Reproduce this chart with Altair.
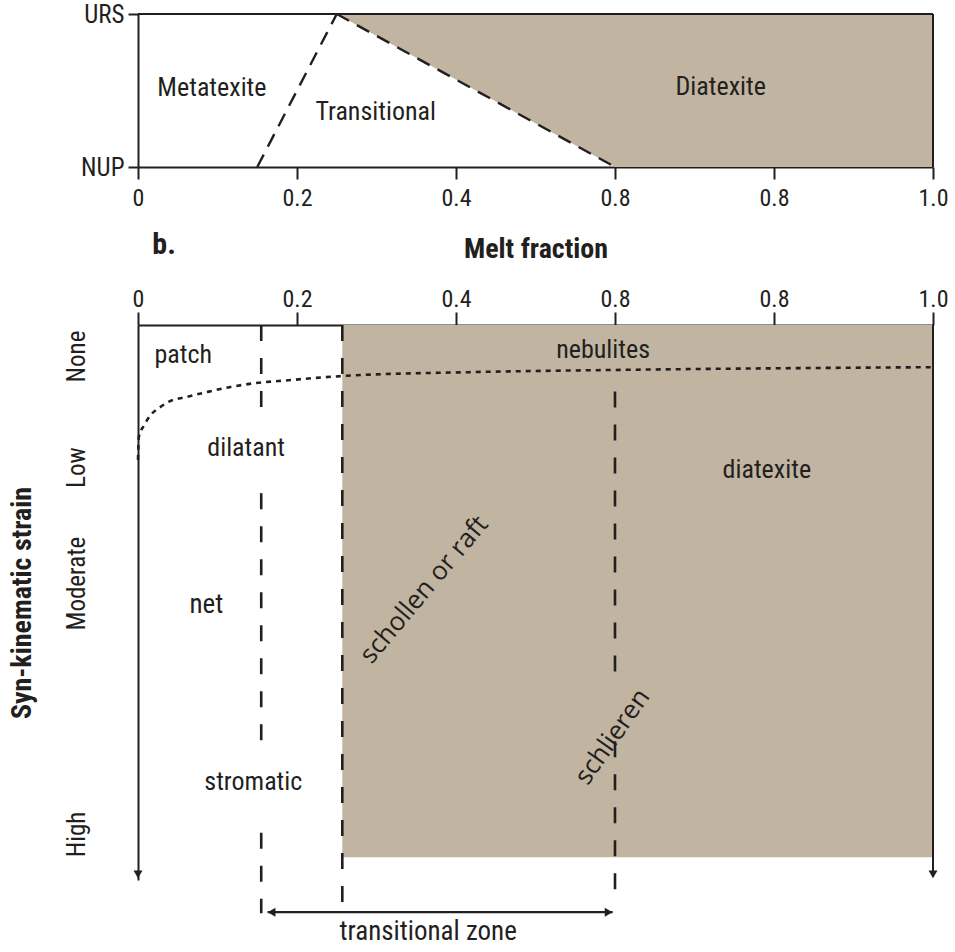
import json
import altair as alt
import pandas as pd

FONT = "Liberation Sans Narrow, Roboto Condensed, DejaVu Sans Condensed, Open Sans, sans-serif"
WIDE_FONT = "Open Sans, Lato, sans-serif"
INK = "#231f20"
TAN = "#c1b5a1"

# ---------------- shared melt-fraction axis ----------------
tick_values = [0, 0.2, 0.4, 0.6, 0.8, 1.0]
tick_labels = ["0", "0.2", "0.4", "0.8", "0.8", "1.0"]

# ---------------- panel a ----------------
a_levels = [0, 1]
a_level_labels = ["NUP", "URS"]

dia_x = [0.25, 0.6, 1.0]
dia_lower = [1, 0, 0]
dia_upper = [1, 1, 1]

a_bound_id = ["meta", "meta", "dia", "dia"]
a_bound_x = [0.15, 0.25, 0.25, 0.6]
a_bound_y = [0, 1, 1, 0]

a_frame_x = [0, 1]
a_frame_x2 = [1, 1]
a_frame_y = [1, 0]
a_frame_y2 = [1, 1]

a_text = ["Metatexite", "Transitional", "Diatexite"]
a_text_x = [0.093, 0.299, 0.733]
a_text_y = [0.516, 0.36, 0.52]

# ---------------- panel b ----------------
strain_values = [0.056, 0.256, 0.465, 0.917]
strain_labels = ["None", "Low", "Moderate", "High"]

dia_rect_x = [0.257]
dia_rect_x2 = [1.0]
dia_rect_y = [0.0]
dia_rect_y2 = [0.959]

curve_x = [0, 0.001, 0.008, 0.016, 0.027, 0.039, 0.06, 0.086, 0.115, 0.152, 0.177, 0.256, 0.416, 0.6, 1.0]
curve_y = [0.243, 0.202, 0.180, 0.162, 0.149, 0.138, 0.130, 0.121, 0.112, 0.104, 0.101, 0.092, 0.085, 0.081, 0.076]

seg_x = [0.155, 0.155, 0.155, 0.257, 0.6, 0.6]
seg_y = [0.0, 0.303, 0.915, 0.0, 0.12, 0.75]
seg_y2 = [0.153, 0.766, 1.06, 1.058, 0.64, 1.047]

right_x = [1.0]
right_y = [0.0]
right_y2 = [0.985]

arrow_x = [0.0, 1.0]
arrow_y = [0.99, 0.99]

zone_x = [0.163]
zone_x2 = [0.597]
zone_y = [1.058]
zone_head_x = [0.168, 0.592]
zone_head_y = [1.058, 1.058]
zone_head_shape = ["triangle-left", "triangle-right"]

b_text = ["patch", "nebulites", "dilatant", "diatexite", "net", "stromatic",
          "transitional zone"]
b_text_x = [0.057, 0.585, 0.136, 0.791, 0.086, 0.145, 0.365]
b_text_y = [0.054, 0.045, 0.222, 0.261, 0.505, 0.823, 1.094]
b_text_size = [26, 26, 26, 26, 27, 26, 27]

rot_text = ["schollen or raft", "schlieren"]
rot_x = [0.36, 0.597]
rot_y = [0.477, 0.742]
rot_angle = [310, 305]

panel_tag = ["b."]
panel_tag_x = [0.018]
panel_tag_y = [-0.144]

# ---------------- expressions built from the label lists ----------------
x_label_expr = f"{json.dumps(tick_labels)}[round(datum.value * 5)]"
a_y_label_expr = f"{json.dumps(a_level_labels)}[round(datum.value)]"
b_y_label_expr = f"{json.dumps(strain_labels)}[indexof({json.dumps(strain_values)}, datum.value)]"

W = 795
HA = 153
HB = 555

# ================= panel a =================
xa_axis = alt.Axis(values=tick_values, labelExpr=x_label_expr, title=None, grid=False,
                   tickSize=12, tickWidth=2, tickColor=INK, domainColor=INK, domainWidth=2,
                   labelFontSize=24, labelFont=FONT, labelColor=INK, labelPadding=7,
                   labelFlush=False)
ya_axis = alt.Axis(values=a_levels, labelExpr=a_y_label_expr, title=None, grid=False,
                   tickSize=10, tickWidth=2, tickColor=INK, domainColor=INK, domainWidth=2,
                   labelFontSize=25, labelFont=FONT, labelColor=INK, labelPadding=4,
                   labelFlush=False)
xa_scale = alt.Scale(domain=[0, 1], nice=False, zero=False)
ya_scale = alt.Scale(domain=[0, 1], nice=False, zero=False)


def XA(f="x"):
    return alt.X(f"{f}:Q", scale=xa_scale, axis=xa_axis)


def YA(f="y"):
    return alt.Y(f"{f}:Q", scale=ya_scale, axis=ya_axis)


dia_df = pd.DataFrame({"x": dia_x, "y": dia_lower, "y2": dia_upper})
a_area = alt.Chart(dia_df).mark_area(color=TAN, opacity=1, interpolate="linear").encode(
    x=XA(), y=YA(), y2="y2:Q")

a_bound_df = pd.DataFrame({"id": a_bound_id, "x": a_bound_x, "y": a_bound_y})
a_bound = alt.Chart(a_bound_df).mark_line(color=INK, strokeWidth=2.4, strokeDash=[14, 9]).encode(
    x=XA(), y=YA(), detail="id:N")

a_frame_df = pd.DataFrame({"x": a_frame_x, "x2": a_frame_x2, "y": a_frame_y, "y2": a_frame_y2})
a_frame = alt.Chart(a_frame_df).mark_rule(color=INK, strokeWidth=2).encode(
    x=XA(), x2="x2:Q", y=YA(), y2="y2:Q")

a_text_df = pd.DataFrame({"t": a_text, "x": a_text_x, "y": a_text_y})
a_labels = alt.Chart(a_text_df).mark_text(font=FONT, fontSize=26, color=INK).encode(
    x=XA(), y=YA(), text="t:N")

panel_a = alt.layer(a_area, a_bound, a_frame, a_labels).properties(width=W, height=HA)

# ================= panel b =================
xb_axis = alt.Axis(values=tick_values, labelExpr=x_label_expr, orient="top", grid=False,
                   title="Melt fraction", titleFont=FONT, titleFontSize=28, titleFontWeight="bold",
                   titleColor=INK, titlePadding=24,
                   tickSize=13, tickWidth=2, tickColor=INK, domainColor=INK, domainWidth=2,
                   labelFontSize=24, labelFont=FONT, labelColor=INK, labelPadding=1,
                   labelFlush=False)
yb_axis = alt.Axis(values=strain_values, labelExpr=b_y_label_expr, grid=False,
                   title="Syn-kinematic strain", titleFont=FONT, titleFontSize=28,
                   titleFontWeight="bold", titleColor=INK, titlePadding=28,
                   ticks=False, domainColor=INK, domainWidth=2,
                   labelAngle=270, labelAlign="center", labelBaseline="bottom",
                   labelFontSize=25, labelFont=FONT, labelColor=INK, labelPadding=49,
                   labelFlush=False)
xb_scale = alt.Scale(domain=[0, 1], nice=False, zero=False)
yb_scale = alt.Scale(domain=[0, 1], nice=False, zero=False, reverse=True)


def XB(f="x"):
    return alt.X(f"{f}:Q", scale=xb_scale, axis=xb_axis)


def YB(f="y"):
    return alt.Y(f"{f}:Q", scale=yb_scale, axis=yb_axis)


rect_df = pd.DataFrame({"x": dia_rect_x, "x2": dia_rect_x2, "y": dia_rect_y, "y2": dia_rect_y2})
b_rect = alt.Chart(rect_df).mark_rect(color=TAN, opacity=1).encode(
    x=XB(), x2="x2:Q", y=YB(), y2="y2:Q")

curve_df = pd.DataFrame({"x": curve_x, "y": curve_y})
b_curve = alt.Chart(curve_df).mark_line(color=INK, strokeWidth=2.6, strokeDash=[5, 5],
                                        interpolate="monotone").encode(x=XB(), y=YB())

seg_df = pd.DataFrame({"x": seg_x, "y": seg_y, "y2": seg_y2})
b_segs = alt.Chart(seg_df).mark_rule(color=INK, strokeWidth=2.6, strokeDash=[16, 17]).encode(
    x=XB(), y=YB(), y2="y2:Q")

right_df = pd.DataFrame({"x": right_x, "y": right_y, "y2": right_y2})
b_right = alt.Chart(right_df).mark_rule(color=INK, strokeWidth=2).encode(
    x=XB(), y=YB(), y2="y2:Q")

arrow_df = pd.DataFrame({"x": arrow_x, "y": arrow_y})
b_arrows = alt.Chart(arrow_df).mark_point(shape="triangle-down", filled=True, size=80,
                                          color=INK, opacity=1).encode(x=XB(), y=YB())

zone_df = pd.DataFrame({"x": zone_x, "x2": zone_x2, "y": zone_y})
b_zone = alt.Chart(zone_df).mark_rule(color=INK, strokeWidth=2.2).encode(
    x=XB(), x2="x2:Q", y=YB())

head_df = pd.DataFrame({"x": zone_head_x, "y": zone_head_y, "s": zone_head_shape})
b_heads = alt.Chart(head_df).mark_point(filled=True, size=80, color=INK, opacity=1).encode(
    x=XB(), y=YB(),
    shape=alt.Shape("s:N", scale=alt.Scale(domain=zone_head_shape, range=zone_head_shape),
                    legend=None))

b_text_df = pd.DataFrame({"t": b_text, "x": b_text_x, "y": b_text_y, "s": b_text_size})
b_labels = alt.Chart(b_text_df).mark_text(font=FONT, color=INK).encode(
    x=XB(), y=YB(), text="t:N",
    size=alt.Size("s:Q", scale=None, legend=None))

rot_layers = []
for t, x, y, a in zip(rot_text, rot_x, rot_y, rot_angle):
    df = pd.DataFrame({"t": [t], "x": [x], "y": [y]})
    rot_layers.append(
        alt.Chart(df).mark_text(font=WIDE_FONT, fontSize=26, color=INK, angle=a).encode(
            x=XB(), y=YB(), text="t:N"))

tag_df = pd.DataFrame({"t": panel_tag, "x": panel_tag_x, "y": panel_tag_y})
b_tag = alt.Chart(tag_df).mark_text(font=FONT, fontSize=30, fontWeight="bold", color=INK,
                                    align="left").encode(x=XB(), y=YB(), text="t:N")

panel_b = alt.layer(b_rect, b_curve, b_segs, b_right, b_arrows, b_zone, b_heads, b_labels,
                    *rot_layers, b_tag).properties(width=W, height=HB)

chart = alt.vconcat(panel_a, panel_b, spacing=20).properties(
    padding={"left": 7, "top": 2, "right": 5, "bottom": 6},
    background="white",
).configure_view(stroke=None).configure_concat(spacing=20)

chart.save("out.html", embed_options={"renderer": "svg", "actions": False})
